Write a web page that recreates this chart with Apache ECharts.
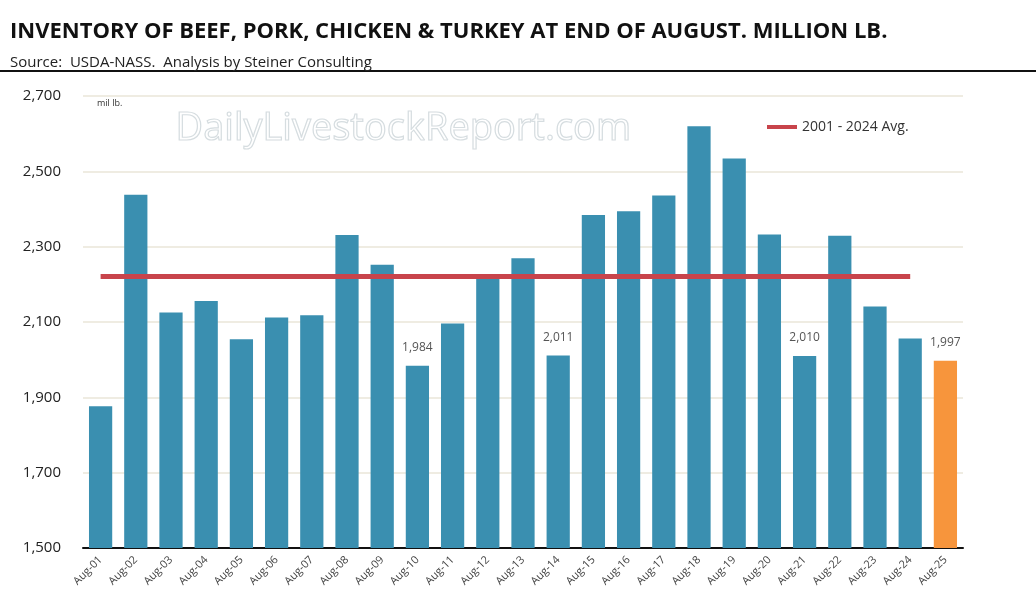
<!DOCTYPE html>
<html>
<head>
<meta charset="utf-8">
<script src="https://cdn.jsdelivr.net/npm/echarts@6/dist/echarts.min.js"></script>
<style>
    html, body {margin: 0; padding: 0; background: #fff;}
    #chart {width: 1036px; height: 616px;}
</style>
</head>
<body>
<div id="chart"></div>
<script>
const categories = ['Aug-01', 'Aug-02', 'Aug-03', 'Aug-04', 'Aug-05', 'Aug-06', 'Aug-07', 'Aug-08', 'Aug-09', 'Aug-10',
    'Aug-11', 'Aug-12', 'Aug-13', 'Aug-14', 'Aug-15', 'Aug-16', 'Aug-17', 'Aug-18', 'Aug-19', 'Aug-20',
    'Aug-21', 'Aug-22', 'Aug-23', 'Aug-24', 'Aug-25'];
const inventory = [1876, 2438, 2125, 2156, 2054, 2112, 2118, 2331, 2252, 1984,
    2096, 2216, 2269, 2011, 2384, 2394, 2436, 2620, 2534, 2332,
    2010, 2329, 2141, 2056, 1997];
const avg = [2221, 2221, 2221, 2221, 2221, 2221, 2221, 2221, 2221, 2221, 2221, 2221,
    2221, 2221, 2221, 2221, 2221, 2221, 2221, 2221, 2221, 2221, 2221, 2221, null];
const labelled = ['Aug-10', 'Aug-14', 'Aug-21', 'Aug-25'];

const narrow = '"Liberation Sans Narrow", "Open Sans", sans-serif';
const chart = echarts.init(document.getElementById('chart'));

chart.setOption({
    animation: false,
    title: [
        {text: 'INVENTORY OF BEEF, PORK, CHICKEN & TURKEY AT END OF AUGUST. MILLION LB.', left: 5, top: 16,
            textStyle: {fontFamily: narrow, fontWeight: 'bold', fontSize: 22, color: '#111'}},
        {text: 'Source:  USDA-NASS.  Analysis by Steiner Consulting', left: 5, top: 50,
            textStyle: {fontFamily: narrow, fontWeight: 'normal', fontSize: 15, color: '#222'}}
    ],
    graphic: [
        {type: 'line', shape: {x1: 0, y1: 71, x2: 1036, y2: 71}, style: {stroke: '#111', lineWidth: 2}},
        {type: 'text', left: 97, top: 99, style: {text: 'mil lb.', fontSize: 9, fontFamily: narrow, fill: '#333'}},
        {type: 'text', left: 175, top: 110, z: 0, style: {text: 'DailyLivestockReport.com', fontSize: 38,
            fontFamily: '"Open Sans", sans-serif', fill: 'rgba(255,255,255,0)', stroke: '#d6dde0', lineWidth: 1.2}}
    ],
    legend: {
        data: [{name: '2001 - 2024 Avg.', icon: 'rect'}],
        left: 762, top: 115, itemWidth: 30, itemHeight: 4,
        textStyle: {fontFamily: narrow, fontSize: 14, color: '#333'}
    },
    grid: {left: 83, right: 73, top: 96, bottom: 68},
    xAxis: {
        type: 'category',
        data: categories,
        axisLine: {lineStyle: {color: '#111', width: 2}},
        axisTick: {show: false},
        axisLabel: {rotate: 45, interval: 0, fontSize: 11, color: '#444', fontFamily: narrow, margin: 10}
    },
    yAxis: {
        type: 'value',
        min: 1500, max: 2700, interval: 200,
        axisLine: {show: false},
        axisTick: {show: false},
        axisLabel: {fontSize: 15, color: '#222', fontFamily: narrow, margin: 22},
        splitLine: {lineStyle: {color: '#eae6d8', width: 1.5}}
    },
    series: [
        {
            type: 'bar',
            name: 'Inventory',
            barWidth: '66%',
            z: 2,
            data: inventory.map((v, i) => ({
                value: v,
                itemStyle: {color: i === inventory.length - 1 ? '#f7953c' : '#3a8fb0'},
                label: {show: labelled.includes(categories[i]), position: 'top', distance: 12,
                    fontSize: 12, color: '#555', fontFamily: narrow,
                    formatter: p => p.value.toLocaleString('en-US')}
            }))
        },
        {
            type: 'line',
            name: '2001 - 2024 Avg.',
            data: avg,
            symbol: 'none',
            z: 3,
            itemStyle: {color: '#c8444b'},
            lineStyle: {color: '#c8444b', width: 5}
        }
    ]
});
</script>
</body>
</html>
